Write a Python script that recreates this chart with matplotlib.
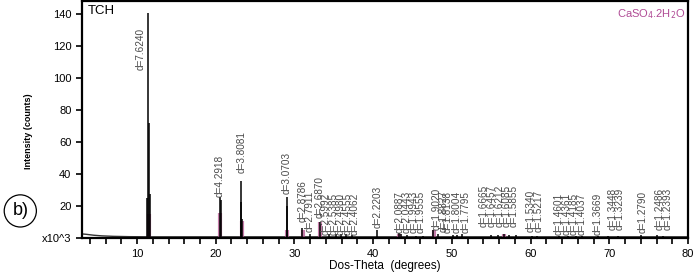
import matplotlib
matplotlib.use('Agg')
from matplotlib import pyplot

# background of the scan
bg_x = [3, 3.5, 4.5, 5.5, 7, 9, 12, 20, 30, 40, 50, 60, 70, 80]
bg_y = [2.8, 2.6, 2.0, 1.6, 1.3, 1.1, 1.0, 1.0, 1.0, 1.0, 1.0, 1.0, 1.0, 1.0]

# measured peaks (2theta, counts x10^3)
peak_pos = [11.45, 11.50, 11.62, 11.32, 20.55, 20.62, 23.17, 23.25, 23.3, 29.0, 29.1,
            31.0, 31.95, 33.2, 34.4, 35.3, 35.9, 36.5, 37.3, 40.5, 43.25, 43.5,
            44.3, 45.4, 46.3, 47.65, 48.2, 50.2, 50.6, 51.25, 55.0, 55.8, 56.6,
            57.2, 58.1, 60.2, 60.8, 63.6, 64.8, 65.7, 66.5, 68.5, 69.8, 71.1,
            74.0, 76.1, 76.8]
peak_int = [141, 72, 28, 25, 26, 24, 36, 23, 12, 26, 20,
            6.5, 2.5, 10, 2.5, 3, 2.5, 2.5, 2, 5, 3.5, 2.5,
            2, 1.8, 1.8, 5.5, 3, 2.2, 2, 2.5, 2, 2, 3,
            2, 2, 1.8, 1.8, 1.6, 1.6, 1.6, 1.6, 1.6, 1.6, 1.6,
            2, 2, 1.8]

# CaSO4.2H2O reference sticks
ref_pos = [11.5, 20.6, 23.3, 29.05, 31.05, 33.25, 43.3, 47.7, 56.6]
ref_int = [15, 16, 11, 5, 5, 10, 3, 5, 3]

d_labels = ['d=7.6240', 'd=4.2918', 'd=3.8081', 'd=3.0703', 'd=2.8786', 'd=2.7911',
            'd=2.6870', 'd=2.5992', 'd=2.5385', 'd=2.4980', 'd=2.4555', 'd=2.4062',
            'd=2.2203', 'd=2.0887', 'd=2.0443', 'd=1.9943', 'd=1.9555', 'd=1.9020',
            'd=1.8827', 'd=1.8138', 'd=1.8004', 'd=1.7795', 'd=1.6665', 'd=1.6457',
            'd=1.6212', 'd=1.6085', 'd=1.5855', 'd=1.5340', 'd=1.5217', 'd=1.4601',
            'd=1.4361', 'd=1.4185', 'd=1.4037', 'd=1.3669', 'd=1.3448', 'd=1.3239',
            'd=1.2790', 'd=1.2486', 'd=1.2393']
label_x = [10.4, 20.55, 23.35, 29.0, 31.1, 31.97, 33.2, 34.0, 34.95, 35.8, 36.7, 37.6,
           40.5, 43.3, 44.3, 45.1, 46.0, 48.05, 48.9, 49.45, 50.6, 51.7, 54.0, 55.0,
           56.0, 56.9, 57.8, 60.0, 61.0, 63.6, 64.6, 65.5, 66.5, 68.57, 70.35, 71.33,
           74.2, 76.4, 77.4]
label_y = [105, 26, 41, 27.5, 10.5, 4.3, 13, 2, 2, 2, 2, 2, 6.5, 3.5, 3.5, 3.5, 3.5,
           5.3, 4, 3.5, 3.5, 3.5, 7.4, 7.4, 7.4, 7.4, 7.4, 4.3, 4.3, 2.2, 2.2, 2.2,
           2.2, 2.2, 5.3, 5.3, 3.4, 5.3, 5.3]

pyplot.rcParams['font.family'] = ['Liberation Sans', 'DejaVu Sans']

fig = pyplot.figure(figsize=(7, 2.75), dpi=100)
ax = fig.add_axes([0.117, 0.133, 0.866, 0.862])

ax.plot(bg_x, bg_y, color='#333333', linewidth=1.0)
ax.vlines(ref_pos, 0.8, ref_int, color='#b5528f', linewidth=3, alpha=0.75, zorder=2)
ax.vlines(peak_pos, 0.8, peak_int, color='black', linewidth=1.1, zorder=3)

for lab, x, y in zip(d_labels, label_x, label_y):
    ax.text(x, y, lab, rotation=90, ha='center', va='bottom', fontsize=7.2,
            color='#4a4a4a')

ax.set_xlim(3, 80)
ax.set_ylim(0, 148)
ax.set_xticks(range(10, 81, 10))
ax.set_xticks(range(4, 81, 2), minor=True)
ax.set_yticks(range(0, 141, 20))
ax.set_yticklabels(['x10^3'] + [str(v) for v in range(20, 141, 20)])
ax.tick_params(labelsize=8, length=4, width=1.2, direction='out')
ax.tick_params(which='minor', length=4, width=1.2)
for s in ax.spines.values():
    s.set_linewidth(1.6)

ax.set_xlabel('Dos-Theta  (degrees)', fontsize=8.5, labelpad=1)
ax.set_ylabel('Intensity (counts)', fontsize=6.5, fontweight='bold')
ax.yaxis.set_label_coords(-0.081, 0.454)

ax.text(0.01, 0.985, 'TCH', transform=ax.transAxes, fontsize=9.5, va='top', ha='left')
ax.text(0.995, 0.975, r'CaSO$_4$.2H$_2$O', transform=ax.transAxes, fontsize=8,
        va='top', ha='right', color='#b04b95')

fig.text(0.029, 0.233, 'b)', fontsize=13, ha='center', va='center',
         bbox=dict(boxstyle='circle,pad=0.42', facecolor='white', edgecolor='black',
                   linewidth=0.9))

fig.savefig('out.png', dpi=100)
